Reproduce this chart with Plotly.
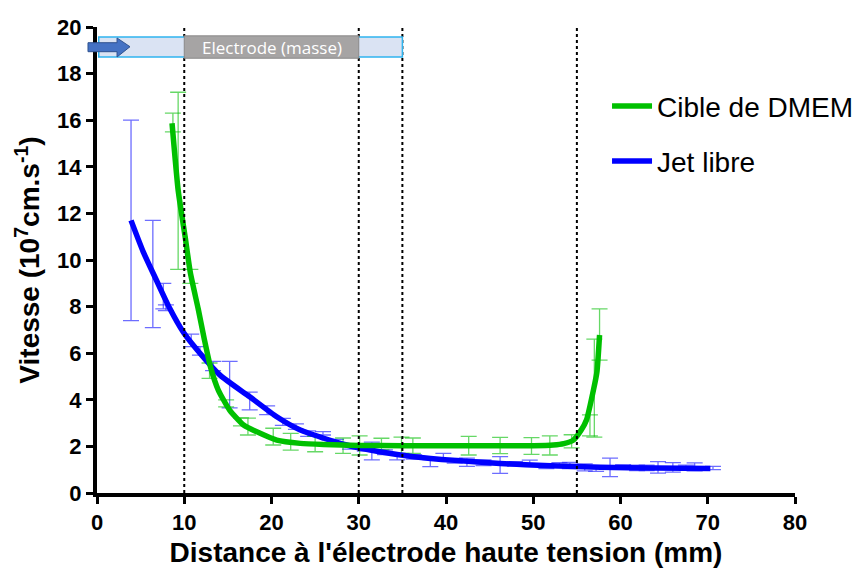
import plotly.graph_objects as go

# ---- fitted curves ----
jet_curve_x = [3.9, 5.3, 6.8, 8.3, 9.9, 11.8, 14.1, 17.5, 20.6, 23.3, 26.0, 28.6, 32.4, 36.3, 41.0, 46.2, 52.0, 57.7, 64.0, 70.3]
jet_curve_y = [11.7, 10.35, 9.14, 7.95, 6.9, 6.0, 5.06, 4.13, 3.27, 2.7, 2.35, 2.06, 1.77, 1.56, 1.4, 1.27, 1.17, 1.10, 1.07, 1.05]

dmem_curve_x = [8.6, 9.3, 10.1, 10.7, 11.6, 12.3, 13.0, 13.9, 15.2, 16.8, 18.7, 20.6, 23.3, 26.0, 30.0, 35.0, 40.0, 45.0, 50.0, 52.3, 53.5, 54.6, 55.5, 56.1, 56.9, 57.3, 57.6]
dmem_curve_y = [15.87, 13.0, 11.0, 9.45, 7.9, 6.6, 5.42, 4.42, 3.56, 2.92, 2.56, 2.27, 2.13, 2.08, 2.04, 2.03, 2.03, 2.03, 2.03, 2.06, 2.12, 2.27, 2.7, 3.13, 4.42, 5.2, 6.78]

# ---- measured points with error bars ----
jet_pts_x = [3.9, 6.4, 7.6, 7.9, 10.8, 11.8, 13.3, 15.2, 17.5, 19.5, 21.3, 22.8, 24.2, 25.9, 27.4, 29.0, 30.7, 31.5, 33.0, 34.4,
             36.3, 38.2, 39.7, 41.0, 42.4, 44.3, 46.2, 47.9, 49.6, 51.5, 53.0, 54.2, 55.9, 57.2, 58.8, 60.3, 61.9, 63.0, 64.3,
             66.0, 67.5, 68.5, 70.6]
jet_pts_y = [11.7, 9.4, 8.45, 7.95, 6.55, 6.1, 5.45, 4.65, 3.95, 3.55, 3.05, 2.85, 2.55, 2.56, 2.2, 2.0, 1.95, 1.8, 1.75, 1.56,
             1.55, 1.28, 1.56, 1.38, 1.32, 1.3, 1.2, 1.25, 1.28, 1.15, 1.2, 1.18, 1.1, 1.05, 1.1, 1.12, 1.08, 1.08, 1.1,
             1.1, 1.1, 1.12, 1.07]
jet_pts_err = [4.3, 2.3, 0.55, 0.12, 0.27, 0.18, 0.2, 1.0, 0.38, 0.19, 0.15, 0.12, 0.12, 0.07, 0.1, 0.12, 0.15, 0.38, 0.1, 0.14,
               0.1, 0.15, 0.14, 0.1, 0.18, 0.12, 0.36, 0.1, 0.13, 0.1, 0.1, 0.13, 0.15, 0.12, 0.4, 0.1, 0.12, 0.12, 0.25,
               0.2, 0.1, 0.17, 0.07]

dmem_pts_x = [8.7, 9.3, 10.7, 12.9, 14.8, 16.5, 17.3, 20.2, 22.2, 25.0, 28.2, 30.1, 32.6, 34.9, 36.2, 42.6, 46.2, 49.8, 51.9, 54.4, 56.5, 57.0, 57.6]
dmem_pts_y = [15.9, 13.4, 9.3, 5.25, 3.85, 3.05, 2.85, 2.42, 2.2, 2.1, 2.03, 2.04, 2.1, 2.05, 2.03, 2.03, 2.04, 2.02, 2.04, 2.22, 2.9, 4.5, 6.8]
dmem_pts_err = [0.4, 3.8, 0.3, 0.33, 0.15, 0.17, 0.36, 0.36, 0.36, 0.33, 0.33, 0.41, 0.25, 0.35, 0.33, 0.4, 0.35, 0.36, 0.41, 0.28, 0.45, 2.1, 1.1]

x_ticks = [0, 10, 20, 30, 40, 50, 60, 70, 80]
y_ticks = [0, 2, 4, 6, 8, 10, 12, 14, 16, 18, 20]

electrode_lines = [10, 30, 35]
target_line = [55]
bar_span = [0.2, 35]          # light blue region (mm)
electrode_span = [10, 30]     # grey electrode (mm)
bar_height = [18.71, 19.57]

GREEN = "#00c000"
BLUE = "#0000ff"
FONT = "Liberation Sans"

fig = go.Figure()

fig.add_trace(go.Scatter(
    x=jet_pts_x, y=jet_pts_y, mode="markers", marker=dict(size=1, opacity=0),
    error_y=dict(type="data", array=jet_pts_err, color="rgba(30,30,255,0.65)", thickness=1.3, width=8),
    showlegend=False, hoverinfo="skip"))
fig.add_trace(go.Scatter(
    x=dmem_pts_x, y=dmem_pts_y, mode="markers", marker=dict(size=1, opacity=0),
    error_y=dict(type="data", array=dmem_pts_err, color="rgba(0,190,0,0.6)", thickness=1.3, width=8),
    showlegend=False, hoverinfo="skip"))

fig.add_trace(go.Scatter(
    x=jet_curve_x, y=jet_curve_y, mode="lines", name="Jet libre",
    line=dict(color=BLUE, width=5.5, shape="spline", smoothing=0.6), legend="legend2"))
fig.add_trace(go.Scatter(
    x=dmem_curve_x, y=dmem_curve_y, mode="lines", name="Cible de DMEM",
    line=dict(color=GREEN, width=5.5, shape="spline", smoothing=0.5), legend="legend"))

shapes = []
for xv in electrode_lines + target_line:
    shapes.append(dict(type="line", xref="x", yref="y", x0=xv, x1=xv, y0=0, y1=20,
                       line=dict(color="black", width=2, dash="dot"), layer="above"))
shapes.append(dict(type="rect", xref="x", yref="y", x0=bar_span[0], x1=bar_span[1],
                   y0=bar_height[0], y1=bar_height[1], fillcolor="#dae3f3",
                   line=dict(color="#2fb4ef", width=1.5), layer="above"))
shapes.append(dict(type="rect", xref="x", yref="y", x0=electrode_span[0], x1=electrode_span[1],
                   y0=bar_height[0] - 0.05, y1=bar_height[1] + 0.05, fillcolor="#a6a4a4",
                   line=dict(color="#8a8888", width=1), layer="above"))
# blue arrow (paper coordinates so it can overhang the axis)
shapes.append(dict(type="path", xref="paper", yref="paper",
                   path="M -0.0129 0.9663 L 0.0287 0.9663 L 0.0287 0.9764 L 0.0473 0.9577 "
                        "L 0.0287 0.9356 L 0.0287 0.947 L -0.0129 0.947 Z",
                   fillcolor="#4472c4", line=dict(color="#2f528f", width=1), layer="above"))

fig.update_layout(
    width=880, height=578,
    margin=dict(l=89, r=93, t=19, b=93),
    plot_bgcolor="white", paper_bgcolor="white",
    shapes=shapes,
    annotations=[dict(x=sum(electrode_span) / 2, y=sum(bar_height) / 2, xref="x", yref="y",
                      text="Electrode (masse)", showarrow=False,
                      font=dict(family="Open Sans", size=17, color="white"))],
    legend=dict(x=0.7307, y=0.830, xanchor="left", yanchor="middle", bgcolor="rgba(0,0,0,0)",
                font=dict(family=FONT, size=28, color="black"), itemwidth=40),
    legend2=dict(x=0.7307, y=0.712, xanchor="left", yanchor="middle", bgcolor="rgba(0,0,0,0)",
                 font=dict(family=FONT, size=28, color="black"), itemwidth=40),
    xaxis=dict(range=[0, 80], tickvals=x_ticks, showgrid=False, zeroline=False,
               showline=True, linecolor="black", linewidth=4, ticks="outside",
               ticklen=7, tickwidth=3, tickcolor="black",
               tickfont=dict(family=FONT, size=22, color="black", weight="bold"),
               title=dict(text="Distance à l'électrode haute tension (mm)", standoff=9,
                          font=dict(family=FONT, size=28, color="black", weight="bold")),
               automargin=False),
    yaxis=dict(range=[0, 20], tickvals=y_ticks, showgrid=False, zeroline=False,
               showline=True, linecolor="black", linewidth=4, ticks="outside",
               ticklen=7, tickwidth=3, tickcolor="black",
               tickfont=dict(family=FONT, size=22, color="black", weight="bold"),
               title=dict(text="Vitesse (10<sup>7</sup>cm.s<sup>-1</sup>)", standoff=10,
                          font=dict(family=FONT, size=28, color="black", weight="bold")),
               automargin=False),
)

fig.write_html("out.html")
